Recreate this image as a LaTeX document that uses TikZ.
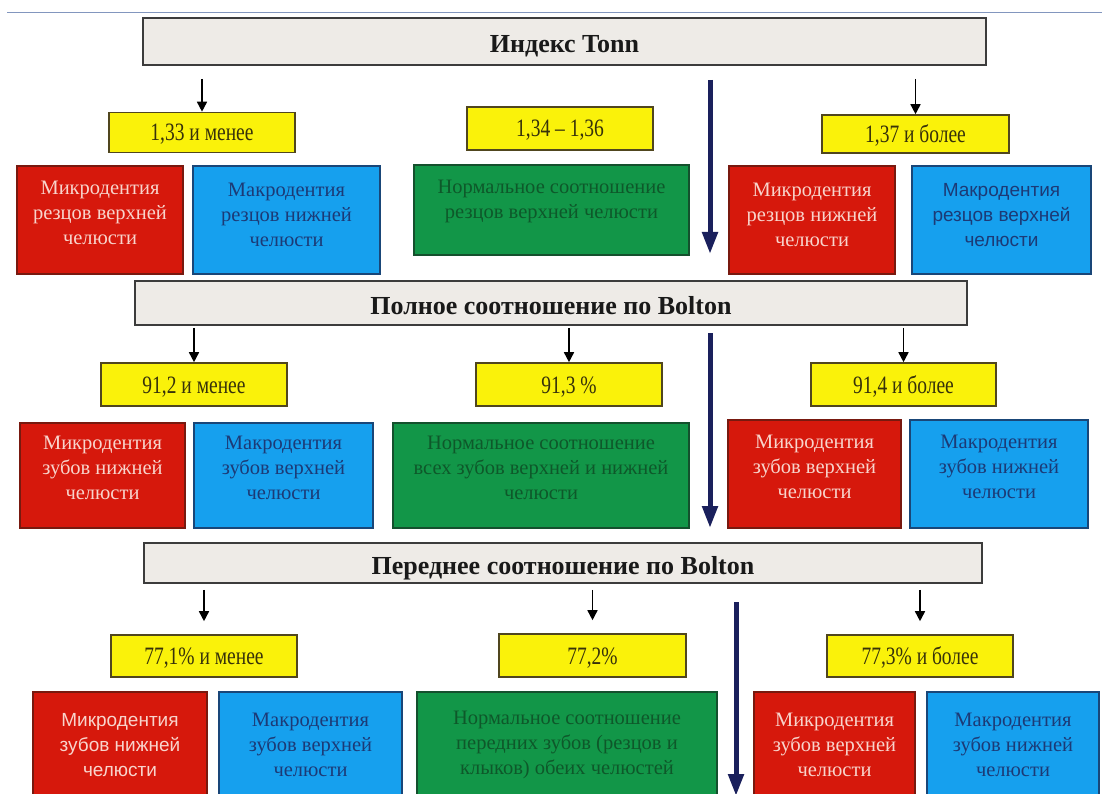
\documentclass[tikz,border=0pt]{standalone}
\usepackage{fontspec}
\setmainfont{Liberation Serif}
\newfontfamily\condserif[FakeStretch=0.78]{Liberation Serif}
\newfontfamily\sansf{Liberation Sans}
\usetikzlibrary{arrows.meta}
\definecolor{hdrfill}{RGB}{238,235,231}
\definecolor{hdrline}{RGB}{60,60,60}
\definecolor{yelfill}{RGB}{250,242,10}
\definecolor{yelline}{RGB}{80,70,30}
\definecolor{yeltext}{RGB}{55,50,10}
\definecolor{redfill}{RGB}{214,24,12}
\definecolor{redline}{RGB}{120,25,15}
\definecolor{redtext}{RGB}{248,212,204}
\definecolor{bluefill}{RGB}{22,160,238}
\definecolor{blueline}{RGB}{25,70,120}
\definecolor{bluetext}{RGB}{28,58,118}
\definecolor{greenfill}{RGB}{18,150,72}
\definecolor{greenline}{RGB}{20,80,45}
\definecolor{greentext}{RGB}{14,88,42}
\definecolor{navy}{RGB}{26,32,92}
\definecolor{topline}{RGB}{130,150,190}
\tikzset{
  basebox/.style={rectangle, draw, line width=1.6pt, inner sep=0pt},
  hdr/.style={basebox, fill=hdrfill, draw=hdrline, text=black!90,
    text height=23pt, text depth=0pt,
    font=\fontsize{26}{30}\selectfont\bfseries},
  ybox/.style={basebox, fill=yelfill, draw=yelline, text=yeltext,
    text height=17pt, text depth=0pt,
    font=\condserif\fontsize{25}{28}\selectfont},
  rbox/.style={basebox, fill=redfill, draw=redline},
  bbox/.style={basebox, fill=bluefill, draw=blueline},
  gbox/.style={basebox, fill=greenfill, draw=greenline},
  txt/.style={align=center, inner sep=0pt, font=\fontsize{20.5}{25}\selectfont},
  rtxt/.style={txt, text=redtext},
  btxt/.style={txt, text=bluetext},
  gtxt/.style={txt, text=greentext},
  sanstxt/.style={font=\sansf\fontsize{19}{25}\selectfont},
  smallarr/.style={draw=black, line width=1.6pt, -{Triangle[width=10pt,length=10pt]}},
  bigarr/.style={draw=navy, line width=5pt, -{Triangle[width=15pt,length=22pt]}}
}
\begin{document}
\begin{tikzpicture}[x=1pt,y=-1pt]
\useasboundingbox (0,0) rectangle (1102,794);
\fill[white] (0,0) rectangle (1102,794);
\begin{scope}
\clip (0,0) rectangle (1102,794);
\draw[topline, line width=1pt] (7,13) -- (1102,13);

% ---------- Row 1: Index Tonn ----------
\node[hdr, minimum width=843pt, minimum height=47pt] (H1) at (564.5,41.5) {Индекс Tonn};
\node[ybox, minimum width=186pt, minimum height=40pt] (Y1) at (202,132.5) {1,33 и менее};
\node[ybox, minimum width=186pt, minimum height=43pt] (Y2) at (560,128.5) {1,34 – 1,36};
\node[ybox, minimum width=187pt, minimum height=38pt] (Y3) at (915.5,134) {1,37 и более};
\node[rbox, minimum width=166pt, minimum height=108pt] (R1) at (100,220) {};
\node[bbox, minimum width=187pt, minimum height=108pt] (B1) at (286.5,220) {};
\node[gbox, minimum width=275pt, minimum height=90pt] (G1) at (551.5,210) {};
\node[rbox, minimum width=166pt, minimum height=108pt] (R2) at (812,220) {};
\node[bbox, minimum width=179pt, minimum height=108pt] (B2) at (1001.5,220) {};
\node[rtxt] (R1t) at ([yshift=7pt]R1.center) {Микродентия\\резцов верхней\\челюсти};
\node[btxt] (B1t) at ([yshift=5pt]B1.center) {Макродентия\\резцов нижней\\челюсти};
\node[gtxt] (G1t) at ([yshift=9pt]G1.center) {Нормальное соотношение\\резцов верхней челюсти};
\node[rtxt] (R2t) at ([yshift=5pt]R2.center) {Микродентия\\резцов нижней\\челюсти};
\node[btxt, sanstxt] (B2t) at ([yshift=5pt]B2.center) {Макродентия\\резцов верхней\\челюсти};
\draw[smallarr, shorten <=13pt] (H1.south -| Y1.north) -- (Y1.north);
\draw[smallarr, shorten <=13pt] (H1.south -| Y3.north) -- (Y3.north);
\coordinate (A1s) at (710,80);
\coordinate (A1e) at (710,254);
\draw[bigarr] (A1s) -- (A1e);

% ---------- Row 2: full Bolton ----------
\node[hdr, minimum width=832pt, minimum height=44pt] (H2) at (551,303) {Полное соотношение по Bolton};
\node[ybox, minimum width=186pt, minimum height=43pt] (Y4) at (194,384.5) {91,2 и менее};
\node[ybox, minimum width=186pt, minimum height=43pt] (Y5) at (569,384.5) {91,3 \%};
\node[ybox, minimum width=185pt, minimum height=43pt] (Y6) at (903.5,384.5) {91,4 и более};
\node[rbox, minimum width=165pt, minimum height=105pt] (R3) at (102.5,475.5) {};
\node[bbox, minimum width=179pt, minimum height=105pt] (B3) at (283.5,475.5) {};
\node[gbox, minimum width=296pt, minimum height=105pt] (G2) at (541,475.5) {};
\node[rbox, minimum width=173pt, minimum height=108pt] (R4) at (814.5,474) {};
\node[bbox, minimum width=178pt, minimum height=108pt] (B4) at (999,474) {};
\node[rtxt] (R3t) at ([yshift=8pt]R3.center) {Микродентия\\зубов нижней\\челюсти};
\node[btxt] (B3t) at ([yshift=8pt]B3.center) {Макродентия\\зубов верхней\\челюсти};
\node[gtxt] (G2t) at ([yshift=8pt]G2.center) {Нормальное соотношение\\всех зубов верхней и нижней\\челюсти};
\node[rtxt] (R4t) at ([yshift=7pt]R4.center) {Микродентия\\зубов верхней\\челюсти};
\node[btxt] (B4t) at ([yshift=7pt]B4.center) {Макродентия\\зубов нижней\\челюсти};
\draw[smallarr, shorten <=2pt] (H2.south -| Y4.north) -- (Y4.north);
\draw[smallarr, shorten <=2pt] (H2.south -| Y5.north) -- (Y5.north);
\draw[smallarr, shorten <=2pt] (H2.south -| Y6.north) -- (Y6.north);
\coordinate (A2s) at (710,333);
\coordinate (A2e) at (710,528);
\draw[bigarr] (A2s) -- (A2e);

% ---------- Row 3: anterior Bolton ----------
\node[hdr, minimum width=838pt, minimum height=40pt] (H3) at (563,563) {Переднее соотношение по Bolton};
\node[ybox, minimum width=186pt, minimum height=42pt] (Y7) at (204,656) {77,1\% и менее};
\node[ybox, minimum width=187pt, minimum height=43pt] (Y8) at (592.5,655.5) {77,2\%};
\node[ybox, minimum width=186pt, minimum height=42pt] (Y9) at (920,656) {77,3\% и более};
\node[rbox, minimum width=174pt, minimum height=118pt] (R5) at (120,751) {};
\node[bbox, minimum width=183pt, minimum height=118pt] (B5) at (310.5,751) {};
\node[gbox, minimum width=300pt, minimum height=118pt] (G3) at (567,751) {};
\node[rbox, minimum width=161pt, minimum height=118pt] (R6) at (834.5,751) {};
\node[bbox, minimum width=172pt, minimum height=118pt] (B6) at (1013,751) {};
\node[rtxt, sanstxt] (R5t) at ([yshift=6pt]R5.center) {Микродентия\\зубов нижней\\челюсти};
\node[btxt] (B5t) at ([yshift=6pt]B5.center) {Макродентия\\зубов верхней\\челюсти};
\node[gtxt] (G3t) at ([yshift=6pt]G3.center) {Нормальное соотношение\\передних зубов (резцов и\\клыков) обеих челюстей};
\node[rtxt] (R6t) at ([yshift=6pt]R6.center) {Микродентия\\зубов верхней\\челюсти};
\node[btxt] (B6t) at ([yshift=6pt]B6.center) {Макродентия\\зубов нижней\\челюсти};
\draw[smallarr, shorten <=6pt, shorten >=13pt] (H3.south -| Y7.north) -- (Y7.north);
\draw[smallarr, shorten <=6pt, shorten >=13pt] (H3.south -| Y8.north) -- (Y8.north);
\draw[smallarr, shorten <=6pt, shorten >=13pt] (H3.south -| Y9.north) -- (Y9.north);
\coordinate (A3s) at (736,602);
\coordinate (A3e) at (736,796);
\draw[bigarr] (A3s) -- (A3e);
\end{scope}
\end{tikzpicture}
\end{document}
